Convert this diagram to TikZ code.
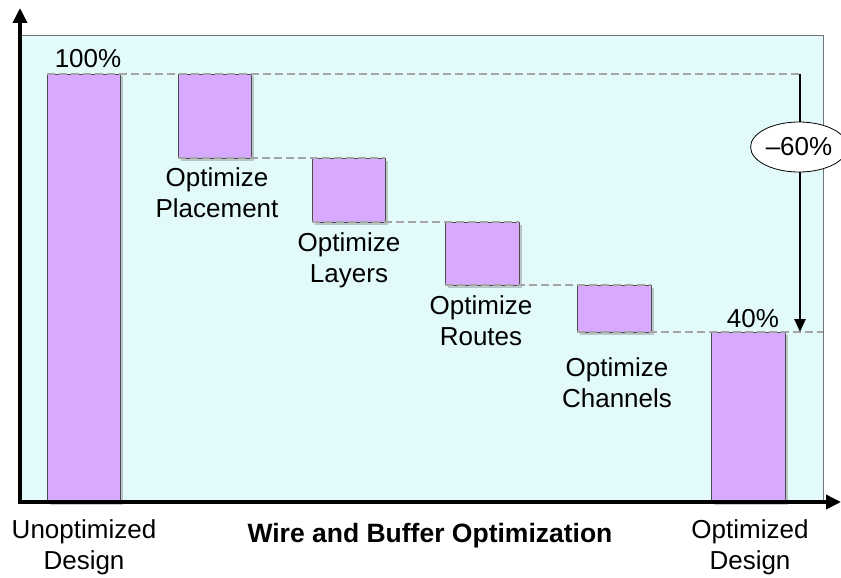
\documentclass[tikz,border=0pt]{standalone}
\usepackage{fontspec}
\setmainfont{Liberation Sans}
\usetikzlibrary{arrows.meta,shadows,shapes.geometric}
\definecolor{panelfill}{RGB}{227,250,250}
\definecolor{barfill}{RGB}{216,170,255}
\definecolor{guidegray}{RGB}{165,165,165}
\tikzset{
  panel/.style={draw=black!55, line width=0.6pt, fill=panelfill},
  bar/.style={draw=black!70, line width=0.8pt, fill=barfill, inner sep=0pt, outer sep=0pt,
    anchor=north west, drop shadow={shadow xshift=2.5pt, shadow yshift=-2.5pt, opacity=0.35, fill=black!60}},
  guide/.style={draw=guidegray, line width=2pt, dash pattern=on 8pt off 4pt},
  axisline/.style={line width=3.5pt, -{Triangle[length=15pt,width=14pt]}},
  lbl/.style={font=\fontsize{26}{31}\selectfont, align=center, inner sep=0pt},
  boldlbl/.style={font=\fontsize{26.5}{31}\selectfont\bfseries, inner sep=0pt},
  tag/.style={ellipse, draw=black, line width=0.8pt, fill=white, inner sep=1pt,
    minimum width=84pt, minimum height=50pt, font=\fontsize{26}{30}\selectfont},
  droparrow/.style={line width=2.5pt, -{Triangle[length=13pt,width=11pt]}}
}
\begin{document}
\begin{tikzpicture}[x=1pt,y=-1pt]
  \useasboundingbox (0,0) rectangle (841,578);
  % chart background
  \node[panel, anchor=north west, minimum width=803pt, minimum height=467pt, inner sep=0pt] (bg) at (20,35) {};

  % bars of the waterfall
  \node[bar, minimum width=73pt, minimum height=428pt] (b0) at (47,74) {};
  \node[bar, minimum width=73pt, minimum height=84pt]  (b1) at (178,74) {};
  \node[bar, minimum width=73pt, minimum height=64pt]  (b2) at (312,158) {};
  \node[bar, minimum width=74pt, minimum height=63pt]  (b3) at (445,222) {};
  \node[bar, minimum width=74pt, minimum height=47pt]  (b4) at (577,285) {};
  \node[bar, minimum width=74pt, minimum height=170pt] (b5) at (711,332) {};

  % guide levels between consecutive steps
  \coordinate (topend) at (800,74);
  \coordinate (botend) at (823,332);
  \coordinate (arrowbot) at (800,332);
  \draw[guide] (b0.north west) -- (topend);
  \draw[guide] (b1.south west) -- (b2.north east);
  \draw[guide] (b2.south west) -- (b3.north east);
  \draw[guide] (b3.south west) -- (b4.north east);
  \draw[guide] (b4.south west) -- (botend);

  % reduction arrow with its tag
  \draw[droparrow] (topend) -- (arrowbot);
  \node[tag] (pct) at (799,147) {–60\%};

  % values and step labels
  \node[lbl, anchor=base] (v0) at (88,68) {100\%};
  \node[lbl, anchor=base] (v5) at (753,327) {40\%};
  \node[lbl, anchor=north] (l1) at (217,167) {Optimize\\Placement};
  \node[lbl, anchor=north] (l2) at (349,232) {Optimize\\Layers};
  \node[lbl, anchor=north] (l3) at (481,295) {Optimize\\Routes};
  \node[lbl, anchor=north] (l4) at (617,357) {Optimize\\Channels};

  % axes
  \coordinate (origin) at (20,502);
  \coordinate (ytip) at (20,8);
  \coordinate (xtip) at (841,502);
  \draw[axisline] (origin) -- (ytip);
  \draw[axisline] ([xshift=-1.75pt]origin) -- (xtip);

  % axis captions
  \node[lbl, anchor=north] (c0) at (84,519) {Unoptimized\\Design};
  \node[boldlbl, anchor=base] (c1) at (430,542) {Wire and Buffer Optimization};
  \node[lbl, anchor=north] (c5) at (750,519) {Optimized\\Design};
\end{tikzpicture}
\end{document}
